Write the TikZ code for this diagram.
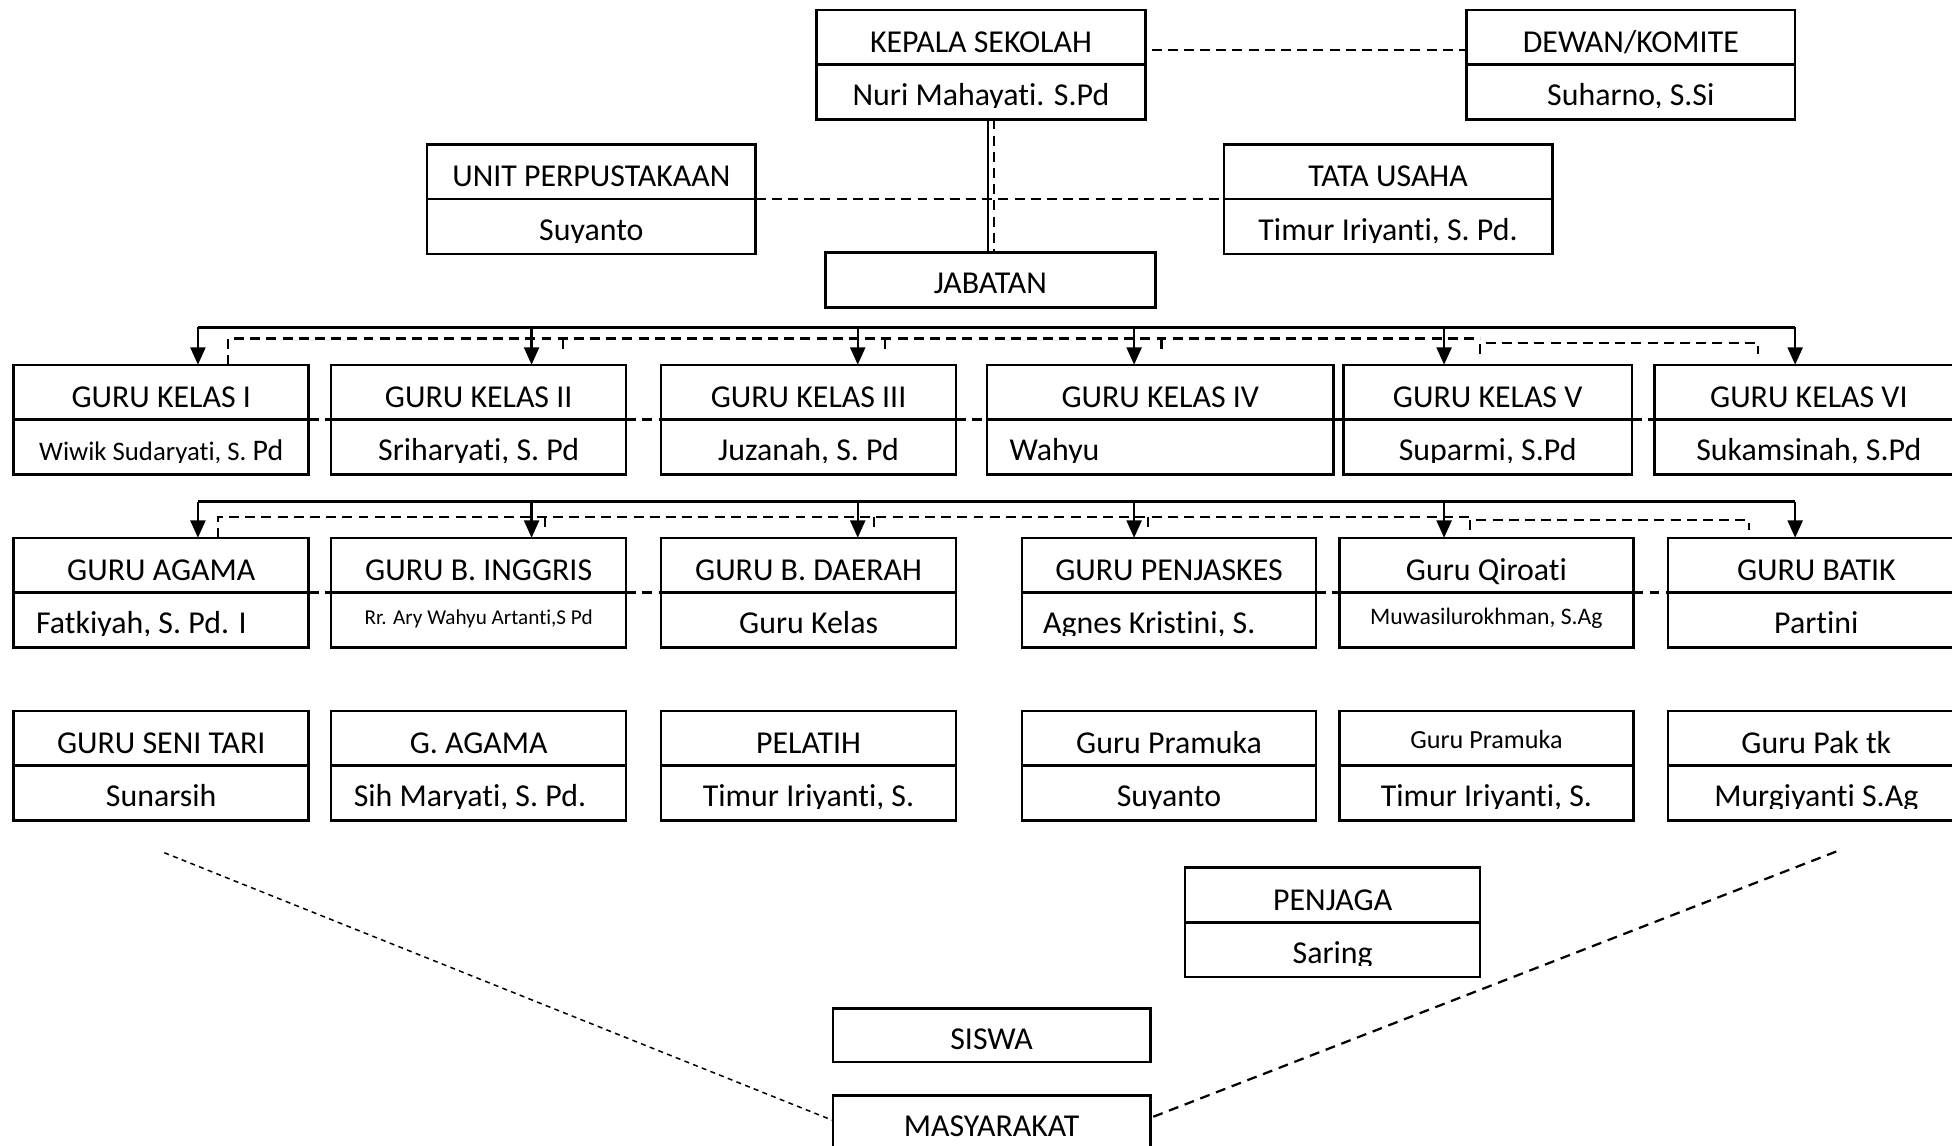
\documentclass[tikz,border=0pt]{standalone}
\usepackage{fontspec}
\setmainfont{Carlito}[Ligatures=CommonOff]
\usetikzlibrary{arrows.meta}
\newcommand\fsz[1]{\fontsize{#1pt}{#1pt}\selectfont}
\tikzset{
  boxshape/.style={draw, line width=2pt, inner sep=0pt, outer sep=0pt},
  divider/.style={line width=2pt},
  txt/.style={anchor=base, inner sep=0pt, outer sep=0pt, font=\fsz{25.6}},
  dashlink/.style={line width=1.8pt, dash pattern=on 8pt off 5pt},
  busline/.style={line width=2pt},
  busarrow/.style={line width=2pt, -{Triangle[length=14pt,width=12pt]}},
  finedash/.style={line width=1.2pt, dash pattern=on 4pt off 3.5pt},
  coarsedash/.style={line width=1.8pt, dash pattern=on 8pt off 5.5pt},
}
% name, x1, top, x2, top-opts, top text, bottom-opts, bottom text
\newcommand\tbox[8]{%
  \node[boxshape, minimum width={(#4-#2)*1pt}, minimum height=88pt] (#1) at ({(#2+#4)/2},{#3+44}) {};
  \draw[divider] (#1.west) -- (#1.east);
  \node[txt,#5] (#1-t) at ({(#2+#4)/2},{#3+34}) {#6};
  \begin{scope}
    \clip ({#2},{#3+44}) rectangle ({#4},{#3+78.5});
    \node[txt,#7] (#1-b) at ({(#2+#4)/2},{#3+77}) {#8};
  \end{scope}}
\begin{document}
\begin{tikzpicture}[x=1pt,y=-1pt]
\useasboundingbox (0,0) rectangle (1568,920);
\clip (0,0) rectangle (1568,920);

% ---- top level
\tbox{kepala}{656}{8}{920}{}{KEPALA SEKOLAH}{}{Nuri Mahayati. S.Pd}
\tbox{dewan}{1178}{8}{1442}{}{DEWAN/KOMITE}{}{Suharno, S.Si}
\tbox{unit}{343}{116}{607}{}{UNIT PERPUSTAKAAN}{}{Suyanto}
\tbox{tata}{983}{116}{1247}{}{TATA USAHA}{}{Timur Iriyanti, S. Pd.}
\node[boxshape, minimum width=265pt, minimum height=44pt] (jabatan) at (795.5,225) {};
\node[txt] (jabatan-t) at (795.5,236) {JABATAN};

% ---- row 1
\tbox{gk1}{11}{293}{248}{}{GURU KELAS I}{}{{\fsz{21.5}Wiwik Sudaryati, S.\ }{\fsz{24}Pd}}
\tbox{gk2}{266}{293}{503}{}{GURU KELAS II}{}{Sriharyati, S. Pd}
\tbox{gk3}{531}{293}{768}{}{GURU KELAS III}{}{Juzanah, S. Pd}
\tbox{gk4}{793}{293}{1071}{}{GURU KELAS IV}{anchor=base west, xshift=-121pt}{Wahyu}
\tbox{gk5}{1079}{293}{1311}{}{GURU KELAS V}{}{Suparmi, S.Pd}
\tbox{gk6}{1329}{293}{1577}{}{GURU KELAS VI}{}{Sukamsinah, S.Pd}

% ---- row 2
\tbox{ga}{11}{432}{248}{}{GURU AGAMA}{anchor=base west, xshift=-100.5pt}{Fatkiyah, S. Pd. I}
\tbox{gbi}{266}{432}{503}{}{GURU B. INGGRIS}{font=\fsz{17}, yshift=7pt}{Rr. Ary Wahyu Artanti,S Pd}
\tbox{gbd}{531}{432}{768}{}{GURU B. DAERAH}{}{Guru Kelas}
\tbox{gpj}{821}{432}{1057}{}{GURU PENJASKES}{anchor=base west, xshift=-101pt}{Agnes Kristini, S.}
\tbox{gq}{1076}{432}{1312}{}{Guru Qiroati}{font=\fsz{19}, yshift=7pt}{Muwasilurokhman, S.Ag}
\tbox{gbt}{1340}{432}{1578}{}{GURU BATIK}{}{Partini}

% ---- row 3
\tbox{gst}{11}{571}{248}{}{GURU SENI TARI}{}{Sunarsih}
\tbox{gag}{266}{571}{503}{}{G. AGAMA}{xshift=-7pt}{Sih Maryati, S. Pd.}
\tbox{pel}{531}{571}{768}{}{PELATIH}{}{Timur Iriyanti, S.}
\tbox{gp1}{821}{571}{1057}{}{Guru Pramuka}{}{Suyanto}
\tbox{gp2}{1076}{571}{1312}{font=\fsz{21}, yshift=4pt}{Guru Pramuka}{}{Timur Iriyanti, S.}
\tbox{gpk}{1340}{571}{1578}{}{Guru Pak tk}{}{Murgiyanti S.Ag}

% ---- bottom
\tbox{penjaga}{952}{697}{1189}{}{PENJAGA}{}{Saring}
\node[boxshape, minimum width=255pt, minimum height=43pt] (siswa) at (796.5,831.5) {};
\node[txt] (siswa-t) at (796.5,843) {SISWA};
\node[boxshape, minimum width=255pt, minimum height=44pt] (masy) at (796.5,902) {};
\node[txt] (masy-t) at (796.5,913) {MASYARAKAT};

% ---- connectors top
\draw[dashlink] ([yshift=12pt,xshift=5pt]kepala.east) -- ([yshift=12pt]dewan.west);
\draw[dashlink] (unit.east) -- (tata.west);
\coordinate (kj) at (jabatan.north |- kepala.south);
\draw[busline] ([xshift=-2pt]kj) -- ([xshift=-2pt]jabatan.north);
\draw[dashlink] ([xshift=3pt]kj) -- ([xshift=3pt]jabatan.north);

% ---- row 1 buses
\coordinate (b1L) at (159,263);
\coordinate (b1R) at (1442,263);
\draw[busline] (b1L) -- (b1R);
\foreach \n/\x in {gk1/159, gk2/427, gk3/689, gk4/911, gk5/1160, gk6/1442}{
  \coordinate (d1-\n) at (\x,263);
  \draw[busarrow] (d1-\n) -- (d1-\n |- \n.north);
}
\coordinate (s1a) at (183,272);
\coordinate (s1b) at (1189,272);
\draw[dashlink] (s1a |- gk1.north) -- (s1a) -- (s1b);
\coordinate (s1c) at (1189,275.5);
\coordinate (s1d) at (1412,275.5);
\draw[dashlink] (1189,284) -- (s1c) -- (s1d) -- (1412,284);
\foreach \x in {452,711,933}{ \draw[dashlink] (\x,272) -- (\x,283); }
\foreach \a/\b in {gk1/gk2, gk2/gk3, gk3/gk4, gk4/gk5, gk5/gk6}{
  \draw[dashlink] (\a.east) -- (\b.west);
}

% ---- row 2 buses
\coordinate (b2L) at (159,403);
\coordinate (b2R) at (1442,403);
\draw[busline] (b2L) -- (b2R);
\foreach \n/\x in {ga/159, gbi/427, gbd/689, gpj/911, gq/1160, gbt/1442}{
  \coordinate (d2-\n) at (\x,403);
  \draw[busarrow] (d2-\n) -- (d2-\n |- \n.north);
}
\coordinate (s2a) at (175,415);
\coordinate (s2b) at (1181,415);
\draw[dashlink] (s2a |- ga.north) -- (s2a) -- (s2b);
\coordinate (s2c) at (1181,418);
\coordinate (s2d) at (1405,418);
\draw[dashlink] (1181,426) -- (s2c) -- (s2d) -- (1405,426);
\foreach \x in {438,702,922}{ \draw[dashlink] (\x,415) -- (\x,425); }
\foreach \a/\b in {ga/gbi, gbi/gbd, gpj/gq, gq/gbt}{
  \draw[dashlink] (\a.east) -- (\b.west);
}

% ---- diagonals to MASYARAKAT
\coordinate (diagL) at (132,685);
\coordinate (diagR) at (1475,684);
\draw[finedash] (diagL) -- ([yshift=2pt]masy.west);
\draw[coarsedash] (diagR) -- ([yshift=4pt]masy.east);
\end{tikzpicture}
\end{document}
